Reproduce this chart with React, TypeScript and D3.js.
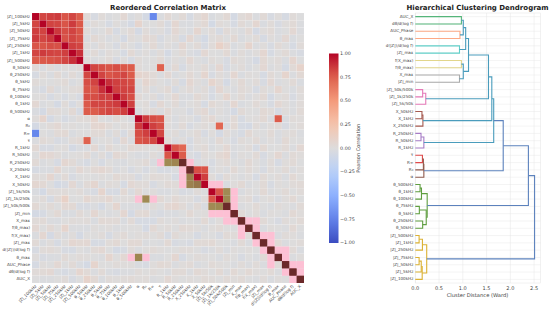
import * as d3 from "d3";

const FONT = "'DejaVu Sans', sans-serif";

// matrix order, top to bottom
const features = [
  "|Z|_100kHz", "|Z|_5kHz", "|Z|_50kHz", "|Z|_75kHz", "|Z|_250kHz", "|Z|_1kHz", "|Z|_500kHz",
  "θ_50kHz", "θ_250kHz", "θ_5kHz", "θ_75kHz", "θ_100kHz", "θ_1kHz", "θ_500kHz",
  "α", "R₀", "R∞", "τ",
  "R_1kHz", "R_50kHz", "R_250kHz",
  "X_250kHz", "X_1kHz", "X_50kHz",
  "|Z|_5k/50k", "|Z|_1k/250k", "|Z|_50k/500k",
  "|Z|_min", "X_max", "f(θ_max)", "f(X_max)", "|Z|_max", "d(|Z|)/d(log f)",
  "θ_max", "AUC_Phase", "dθ/d(log f)", "AUC_X",
];

// upper triangle in hundredths, row i holds columns i+1..36
const corrUpper = [
  [82,84,85,78,82,76,3,-4,2,-2,0,5,-3,1,-6,-72,-2,4,-1,3,-5,2,6,-3,0,4,-6,2,5,-2,3,-4,1,-5,2,-1],
  [83,82,78,85,77,-3,2,0,-5,1,-2,-6,8,-1,0,3,-4,6,-2,-3,1,4,-7,2,0,-5,3,-1,6,-3,2,-4,1,3,-2],
  [86,80,83,78,2,-3,-1,4,-5,0,3,-6,2,-2,1,-4,5,0,-3,7,-1,2,-5,3,0,-2,4,-6,1,3,-3,-1,5,-2],
  [79,82,79,-2,4,1,-3,0,-6,2,-1,5,3,-4,0,2,-5,6,-2,-7,1,3,-1,4,-3,0,2,-5,1,-2,5,-3,0],
  [84,82,1,-2,3,0,-4,2,-1,-5,0,4,-3,1,-2,6,-1,3,-4,2,11,5,-3,0,8,-2,1,-4,3,-1,-5,2],
  [88,-1,3,-3,2,0,-5,4,-2,1,-3,2,-6,0,3,-2,-4,5,0,-1,4,-3,2,-2,1,6,-5,0,3,-2,-4],
  [2,-2,0,3,-4,1,-5,2,-1,0,4,-3,1,-2,5,-1,-3,2,0,-4,3,1,-2,-6,4,0,2,-3,7,-1],
  [82,80,78,80,77,76,2,-1,0,74,-3,4,-5,1,0,3,-2,6,-4,-1,2,-3,0,5,-2,1,-6,3,9],
  [83,78,80,82,76,8,6,3,-2,5,-3,0,4,-1,7,-4,2,-2,6,-3,1,0,-5,3,-1,8,-2,4],
  [88,84,82,80,-1,7,3,0,-3,2,-5,6,1,-2,8,3,-6,0,4,-1,2,-4,5,-2,0,3,-3],
  [84,83,82,-2,3,-3,1,4,-5,0,3,-1,2,-4,6,0,-2,3,1,-5,2,-1,7,0,-3,2],
  [85,80,3,-1,2,-4,0,5,-2,-3,4,1,-5,0,7,-1,3,-2,1,4,-6,0,2,-4,1],
  [84,0,2,-4,5,-1,3,-3,0,2,-5,4,1,-2,6,-3,-1,3,0,-4,5,1,-2,2],
  [-3,1,3,-2,4,-1,0,-4,2,5,-3,1,-2,-6,3,0,-1,4,2,-5,1,-2,3],
  [85,80,78,2,-3,1,0,-4,2,5,-1,-2,3,-5,0,1,4,-2,76,-3,2,1],
  [84,80,1,-2,3,-4,0,2,-1,72,-3,4,-5,-6,2,-2,1,3,-4,0,2],
  [82,-1,2,-3,0,3,-4,1,-6,2,-2,-5,4,0,-1,3,-3,1,2,-2],
  [3,-2,1,-5,2,0,-3,4,-1,-4,2,0,3,-2,1,-3,4,0,-1],
  [78,72,-4,1,3,-3,0,5,-2,-1,2,-5,4,-1,0,3,-2,5],
  [76,-2,-5,2,0,4,7,-3,1,-1,3,-4,0,6,-2,3,1],
  [2,-3,0,-4,1,3,-1,-2,4,0,-3,2,-5,1,3,-1],
  [80,78,-3,1,-2,4,-1,3,0,-4,2,-1,3,-2,1],
  [84,2,-4,3,0,-2,1,-5,3,-1,2,-3,4,0],
  [-1,2,-3,1,4,-2,0,3,-4,1,-1,2,3],
  [78,72,2,-3,1,-1,4,-2,0,3,-1,2],
  [74,-2,1,3,-4,0,2,-3,1,4,-1],
  [1,-2,0,3,-1,-3,2,0,-2,3],
  [3,-1,2,-3,1,0,-2,4,1],
  [-2,1,3,-1,-4,2,0,3],
  [2,-3,1,0,-2,4,-1],
  [4,-1,-3,2,1,-2],
  [1,3,-2,0,2],
  [-1,2,3,-3],
  [2,-2,1],
  [3,-1],
  [2],
];

// cells drawn in the flat pink highlight, [row, col]
const pinkCells = [
  [20,17],[20,21],[21,20],[22,20],[23,20],[23,24],[23,25],[24,27],[25,27],[26,27],[27,24],[27,25],[27,26],
  [28,26],[28,27],[28,29],[28,30],[29,28],[30,28],[29,30],[30,31],[30,32],[31,30],[32,33],[32,34],
  [33,32],[34,32],[33,34],[34,35],[34,36],[35,34],[36,35],[35,36],[31,32],[32,31],
  [25,14],[25,16],[33,13],[33,15],
];
// strong cells with the olive tint on top
const tintedCells = [
  [20,18],[20,19],[22,21],[23,21],[23,22],[24,26],[25,26],[26,24],[26,25],[25,15],[33,14],
];
const darkDiagonal = [20, 21, 26, 27, 28, 29, 30, 31, 32, 33, 34, 35, 36];

const colorTicks = [1, 0.75, 0.5, 0.25, 0, -0.25, -0.5, -0.75, -1];

// dendrogram leaves, top to bottom
const leaves = [...features].reverse();

// merges in scipy linkage style: [left, right, distance], ids from 37 are earlier merges
const linkage = [
  [0,1,0.97],[2,3,0.94],[4,5,0.93],[6,7,0.97],[8,9,0.93],
  [37,38,1.01],[42,39,1.06],[40,41,1.01],[43,44,1.12],
  [10,11,0.155],[46,12,0.22],[45,47,1.54],
  [13,14,0.14],[49,15,0.16],[48,50,1.61],
  [16,17,0.12],[52,18,0.18],[51,53,1.65],
  [19,20,0.15],[55,21,0.17],[56,22,0.18],[54,57,1.85],
  [23,24,0.1],[59,25,0.13],[26,27,0.085],[28,29,0.155],[61,62,0.23],[60,63,0.25],
  [58,64,2.38],
  [30,31,0.08],[66,32,0.15],[33,34,0.08],[68,35,0.125],[69,36,0.145],[67,70,0.24],
  [65,71,2.51],
];
const linkColors = [
  "#55b57a","#fda985","#62cfc9","#e2d68c","#aaaaaa",
  "#4a9cbc","#4a9cbc","#4a9cbc","#4a9cbc",
  "#e57ab8","#e57ab8","#4a9cbc",
  "#a5594f","#a5594f","#4a9cbc",
  "#a67cc6","#a67cc6","#4a9cbc",
  "#e04a4a","#8f5a4c","#8f5a4c","#5c82bd",
  "#5f9e40","#5f9e40","#5f9e40","#5f9e40","#5f9e40","#5f9e40",
  "#5c82bd",
  "#dcb235","#dcb235","#dcb235","#dcb235","#dcb235","#dcb235",
  "#5c82bd",
];
const distanceTicks = [0, 0.5, 1, 1.5, 2, 2.5];

const coolwarm = d3
  .scaleLinear<string>()
  .domain([-1, -0.75, -0.5, -0.25, 0, 0.25, 0.5, 0.75, 1])
  .range(["#3b4cc0", "#6282ea", "#8db0fe", "#b8d0f9", "#dddcdc", "#f5c4ad", "#f49a7b", "#de604d", "#b40426"]);

const HEAT = { left: 32, right: 304, top: 13, bottom: 283 };
const BAR = { left: 329, right: 338.5, top: 53.5, bottom: 243 };
const DENDRO = { left: 415.3, right: 540.6, top: 13, bottom: 283 };

export default function App() {
  const ids = d3.range(features.length);
  const xHeat = d3.scaleBand<number>().domain(ids).range([HEAT.left, HEAT.right]);
  const yHeat = d3.scaleBand<number>().domain(ids).range([HEAT.top, HEAT.bottom]);
  const yBar = d3.scaleLinear().domain([-1, 1]).range([BAR.bottom, BAR.top]);

  const corr = (i: number, j: number) => {
    if (i === j) return 1;
    const a = Math.min(i, j);
    const b = Math.max(i, j);
    return (corrUpper[a][b - a - 1] ?? 0) / 100;
  };

  const cellW = xHeat.bandwidth();
  const cellH = yHeat.bandwidth();

  const xDist = d3
    .scaleLinear()
    .domain([0, 2.5])
    .range([DENDRO.left, DENDRO.left + 118.8]);
  const yLeaf = d3
    .scalePoint<number>()
    .domain(ids)
    .range([DENDRO.top, DENDRO.bottom])
    .padding(0.5);

  // walk the merges and remember where each subtree sits
  const nodes = new Map<number, { y: number; d: number }>();
  ids.forEach((k) => nodes.set(k, { y: yLeaf(k) as number, d: 0 }));
  const links = linkage.map(([a, b, d], k) => {
    const na = nodes.get(a)!;
    const nb = nodes.get(b)!;
    nodes.set(features.length + k, { y: (na.y + nb.y) / 2, d });
    const p = d3.path();
    p.moveTo(xDist(na.d), na.y);
    p.lineTo(xDist(d), na.y);
    p.lineTo(xDist(d), nb.y);
    p.lineTo(xDist(nb.d), nb.y);
    return { path: p.toString(), color: linkColors[k] };
  });

  const gradientStops = d3.range(0, 1.001, 0.05);

  return (
    <svg
      width={550}
      height={313}
      style={{ position: "absolute", left: 0, top: 0, background: "white", textRendering: "geometricPrecision" }}
      fontFamily={FONT}
    >
      <defs>
        <linearGradient id="cbar" x1="0" y1="1" x2="0" y2="0">
          {gradientStops.map((t) => (
            <stop key={t} offset={t} stopColor={coolwarm(t * 2 - 1)} />
          ))}
        </linearGradient>
      </defs>

      <text x={168} y={9.7} textAnchor="middle" fontSize={7} fontWeight="bold" fill="#222">
        Reordered Correlation Matrix
      </text>

      {/* heatmap */}
      <g>
        {ids.map((i) =>
          ids.map((j) => (
            <rect
              key={`${i}-${j}`}
              x={xHeat(j)}
              y={yHeat(i)}
              width={cellW}
              height={cellH}
              fill={coolwarm(corr(i, j))}
              stroke="#fff"
              strokeOpacity={0.2}
              strokeWidth={0.35}
            />
          ))
        )}
        {pinkCells.map(([i, j]) => (
          <rect key={`p${i}-${j}`} x={xHeat(j)} y={yHeat(i)} width={cellW} height={cellH} fill="#fdc0d4" />
        ))}
        {tintedCells.map(([i, j]) => (
          <rect key={`t${i}-${j}`} x={xHeat(j)} y={yHeat(i)} width={cellW} height={cellH} fill="#5fae55" opacity={0.5} />
        ))}
        {darkDiagonal.map((i) => (
          <rect key={`d${i}`} x={xHeat(i)} y={yHeat(i)} width={cellW} height={cellH} fill="#6b2a2a" />
        ))}
      </g>

      {features.map((name, i) => (
        <text
          key={`yl${i}`}
          x={HEAT.left - 2}
          y={(yHeat(i) as number) + cellH / 2}
          textAnchor="end"
          dominantBaseline="middle"
          fontSize={4.1}
          fill="#444"
        >
          {name}
        </text>
      ))}
      {features.map((name, i) => {
        const x = (xHeat(i) as number) + cellW / 2 + 1;
        return (
          <text
            key={`xl${i}`}
            transform={`translate(${x},${HEAT.bottom + 3.5}) rotate(-45)`}
            textAnchor="end"
            fontSize={4.1}
            fill="#444"
          >
            {name}
          </text>
        );
      })}

      {/* colorbar */}
      <rect
        x={BAR.left}
        y={BAR.top}
        width={BAR.right - BAR.left}
        height={BAR.bottom - BAR.top}
        fill="url(#cbar)"
      />
      {colorTicks.map((t) => (
        <text key={t} x={BAR.right + 1.6} y={yBar(t)} dominantBaseline="middle" fontSize={4.8} fill="#444">
          {d3.format(".2f")(t).replace("-", "−")}
        </text>
      ))}
      <text
        transform={`translate(360,${(BAR.top + BAR.bottom) / 2}) rotate(-90)`}
        textAnchor="middle"
        fontSize={5}
        fill="#444"
      >
        Pearson Correlation
      </text>

      {/* dendrogram */}
      <text x={477.5} y={9.7} textAnchor="middle" fontSize={7} fontWeight="bold" fill="#222">
        Hierarchical Clustering Dendrogram
      </text>
      <rect
        x={DENDRO.left}
        y={DENDRO.top}
        width={DENDRO.right - DENDRO.left}
        height={DENDRO.bottom - DENDRO.top}
        fill="none"
        stroke="#e4e4e4"
        strokeWidth={0.5}
      />
      {ids.map((k) => (
        <line
          key={`gh${k}`}
          x1={DENDRO.left}
          x2={DENDRO.right}
          y1={yLeaf(k)}
          y2={yLeaf(k)}
          stroke="#e8e8e8"
          strokeWidth={0.5}
        />
      ))}
      {distanceTicks.map((t) => (
        <g key={t}>
          <line
            x1={xDist(t)}
            x2={xDist(t)}
            y1={DENDRO.top}
            y2={DENDRO.bottom}
            stroke="#e4e4e4"
            strokeWidth={0.5}
          />
          <text x={xDist(t)} y={289.5} textAnchor="middle" fontSize={5} fill="#444">
            {d3.format(".1f")(t)}
          </text>
        </g>
      ))}
      {links.map((l, k) => (
        <path key={k} d={l.path} fill="none" stroke={l.color} strokeWidth={1.1} />
      ))}
      {leaves.map((name, k) => (
        <text
          key={`ll${k}`}
          x={DENDRO.left - 2}
          y={yLeaf(k)}
          textAnchor="end"
          dominantBaseline="middle"
          fontSize={4.1}
          fill="#444"
        >
          {name}
        </text>
      ))}
      <text x={477.5} y={297} textAnchor="middle" fontSize={5.2} fill="#444">
        Cluster Distance (Ward)
      </text>
    </svg>
  );
}
